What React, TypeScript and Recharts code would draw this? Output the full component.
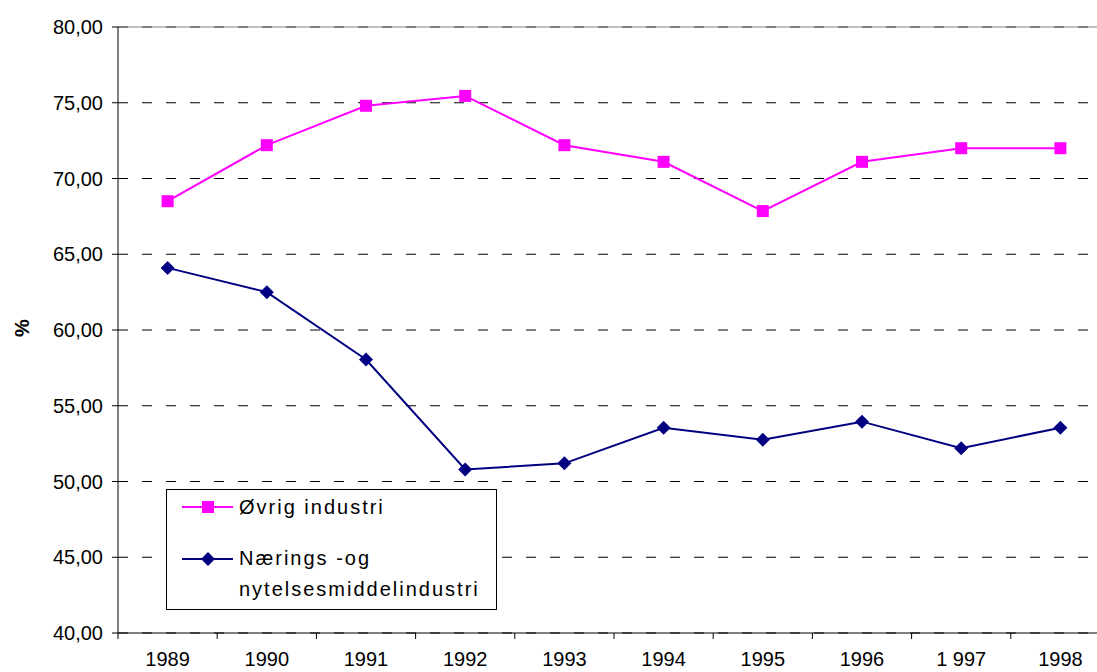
import React from 'react';
import {
  LineChart,
  Line,
  XAxis,
  YAxis,
  CartesianGrid,
  ReferenceLine,
} from 'recharts';

const years = ['1989', '1990', '1991', '1992', '1993', '1994', '1995', '1996', '1 997', '1998'];
const ovrigIndustri = [68.5, 72.2, 74.8, 75.45, 72.2, 71.1, 67.85, 71.1, 72.0, 72.0];
const naeringsIndustri = [64.1, 62.5, 58.05, 50.8, 51.2, 53.55, 52.75, 53.95, 52.2, 53.55];
const yTicks = [40, 45, 50, 55, 60, 65, 70, 75, 80];

const data = years.map((year, i) => ({
  year,
  ovrig: ovrigIndustri[i],
  naerings: naeringsIndustri[i],
}));

const FONT = '"Liberation Sans", Arial, sans-serif';
const PINK = '#ff00ff';
const NAVY = '#000080';

// the plot runs past the right edge of the picture, like the original
const CHART_W = 1110;
const CHART_H = 672;
const Y_AXIS_W = 118;
const X_AXIS_H = 39;
const TOP = 27;
const band = (CHART_W - Y_AXIS_W) / years.length;
const axisY = CHART_H - X_AXIS_H;

const fmt = (v: number) => v.toFixed(2).replace('.', ',');

function XTick(props: any) {
  const { x, payload } = props;
  const bx = x - band / 2;
  return (
    <g>
      <line x1={bx} y1={axisY} x2={bx} y2={axisY + 6} stroke="#000" />
      <text x={x} y={CHART_H - 6} textAnchor="middle" fontSize={20} fontFamily={FONT} fill="#000">
        {payload.value}
      </text>
    </g>
  );
}

function SquareDot(props: any) {
  const { cx, cy, index } = props;
  return <rect key={`s${index}`} x={cx - 6} y={cy - 6} width={12} height={12} fill={PINK} />;
}

function DiamondDot(props: any) {
  const { cx, cy, index } = props;
  const r = 7;
  return (
    <path
      key={`d${index}`}
      d={`M${cx},${cy - r}L${cx + r},${cy}L${cx},${cy + r}L${cx - r},${cy}Z`}
      fill={NAVY}
    />
  );
}

function LegendBox() {
  const row: React.CSSProperties = { display: 'flex', alignItems: 'center', position: 'absolute', left: 0 };
  const txt: React.CSSProperties = { fontSize: 20, letterSpacing: 2, lineHeight: '31px' };
  return (
    <div
      style={{
        position: 'absolute',
        left: 166,
        top: 489,
        width: 329,
        height: 119,
        background: '#fff',
        border: '1px solid #000',
        fontFamily: FONT,
        color: '#000',
      }}
    >
      <div style={{ ...row, top: 0, height: 34 }}>
        <svg width={72} height={34} style={{ marginLeft: 14 }}>
          <line x1={1} y1={17} x2={52} y2={17} stroke={PINK} strokeWidth={2} />
          <rect x={21} y={11} width={12} height={12} fill={PINK} />
        </svg>
        <span style={{ ...txt, marginLeft: -14 }}>Øvrig industri</span>
      </div>
      <div style={{ ...row, top: 53, alignItems: 'flex-start' }}>
        <svg width={72} height={31} style={{ marginLeft: 14 }}>
          <line x1={1} y1={16} x2={52} y2={16} stroke={NAVY} strokeWidth={2} />
          <path d="M27,9L34,16L27,23L20,16Z" fill={NAVY} />
        </svg>
        <div style={{ ...txt, marginLeft: -14 }}>
          Nærings -og
          <br />
          nytelsesmiddelindustri
        </div>
      </div>
    </div>
  );
}

export default function App() {
  return (
    <div
      style={{
        position: 'fixed',
        left: 0,
        top: 0,
        width: 1097,
        height: 672,
        overflow: 'hidden',
        background: '#fff',
      }}
    >
      <LineChart
        width={CHART_W}
        height={CHART_H}
        data={data}
        margin={{ top: TOP, right: 0, bottom: 0, left: 0 }}
      >
        <CartesianGrid vertical={false} stroke="#000" strokeDasharray="10 14" />
        <ReferenceLine y={80} stroke="#808080" />
        <XAxis
          dataKey="year"
          scale="band"
          height={X_AXIS_H}
          stroke="#000"
          tickLine={false}
          tick={<XTick />}
          interval={0}
        />
        <YAxis
          width={Y_AXIS_W}
          domain={[40, 80]}
          ticks={yTicks}
          tickFormatter={fmt}
          stroke="#000"
          tickSize={6}
          tickMargin={9}
          tick={{ fill: '#000', fontSize: 20, fontFamily: FONT }}
          label={{
            content: () => (
              <text
                x={22}
                y={328}
                transform="rotate(-90 22 328)"
                textAnchor="middle"
                dominantBaseline="central"
                fontSize={20}
                fontWeight="bold"
                fontFamily={FONT}
                fill="#000"
              >
                %
              </text>
            ),
          }}
        />
        <Line
          dataKey="ovrig"
          stroke={PINK}
          strokeWidth={2}
          dot={SquareDot}
          isAnimationActive={false}
        />
        <Line
          dataKey="naerings"
          stroke={NAVY}
          strokeWidth={2}
          dot={DiamondDot}
          isAnimationActive={false}
        />
      </LineChart>
      <LegendBox />
    </div>
  );
}
